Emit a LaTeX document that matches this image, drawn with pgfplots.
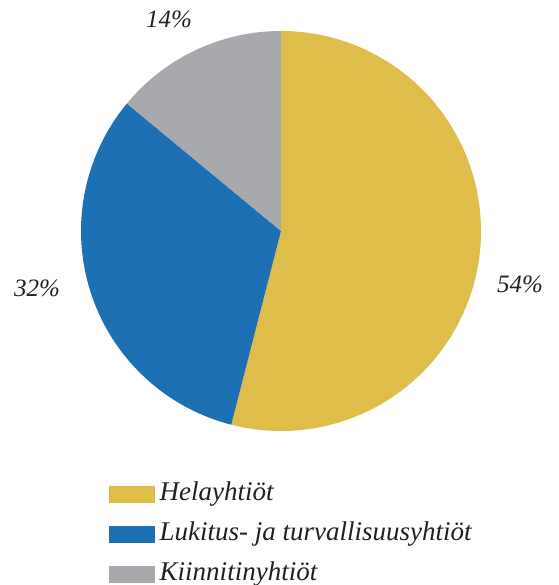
\documentclass[border=0pt]{standalone}
\usepackage{fontspec}
\setmainfont{Liberation Serif}
\usepackage{pgfplots}
\pgfplotsset{compat=1.18}
\definecolor{pieyellow}{HTML}{DFBD4A}
\definecolor{pieblue}{HTML}{1D70B4}
\definecolor{piegray}{HTML}{A7A9AC}
\definecolor{txt}{HTML}{231F20}
\begin{document}
\begin{tikzpicture}
\begin{axis}[
  at={(0,0)}, anchor=south west,
  scale only axis, width=558pt, height=585pt,
  xmin=0, xmax=558, ymin=0, ymax=585,
  hide axis, clip=false,
  legend style={at={(0.1900,0.1795)}, anchor=north west, draw=none, fill=none,
    font=\fontsize{27}{30}\selectfont\itshape, text=txt,
    nodes={inner xsep=4.5pt, inner ysep=0pt, anchor=west, text height=18pt, text depth=6pt},
    row sep=16pt},
  legend cell align=left,
  legend image code/.code={\fill[#1] (0pt,-8.5pt) rectangle (46pt,8.5pt);},
]
% Helayhtiöt 54%
\addplot[fill=pieyellow, draw=none, domain=-104.4:90, samples=150, variable=\t]
  ({281+200*cos(\t)},{354+200*sin(\t)}) -- (281,354) -- cycle;
\addlegendentry{Helayhtiöt}
% Lukitus- ja turvallisuusyhtiöt 32%
\addplot[fill=pieblue, draw=none, domain=-219.6:-104.4, samples=100, variable=\t]
  ({281+200*cos(\t)},{354+200*sin(\t)}) -- (281,354) -- cycle;
\addlegendentry{Lukitus- ja turvallisuusyhtiöt}
% Kiinnitinyhtiöt 14%
\addplot[fill=piegray, draw=none, domain=-270:-219.6, samples=50, variable=\t]
  ({281+200*cos(\t)},{354+200*sin(\t)}) -- (281,354) -- cycle;
\addlegendentry{Kiinnitinyhtiöt}
\node[font=\fontsize{25}{28}\selectfont\itshape, text=txt] at (axis cs:169,566) {14\%};
\node[font=\fontsize{25}{28}\selectfont\itshape, text=txt] at (axis cs:520,301) {54\%};
\node[font=\fontsize{25}{28}\selectfont\itshape, text=txt] at (axis cs:37,297) {32\%};
\end{axis}
\pgfresetboundingbox
\path (0,0) rectangle (558pt,585pt);
\end{tikzpicture}
\end{document}
